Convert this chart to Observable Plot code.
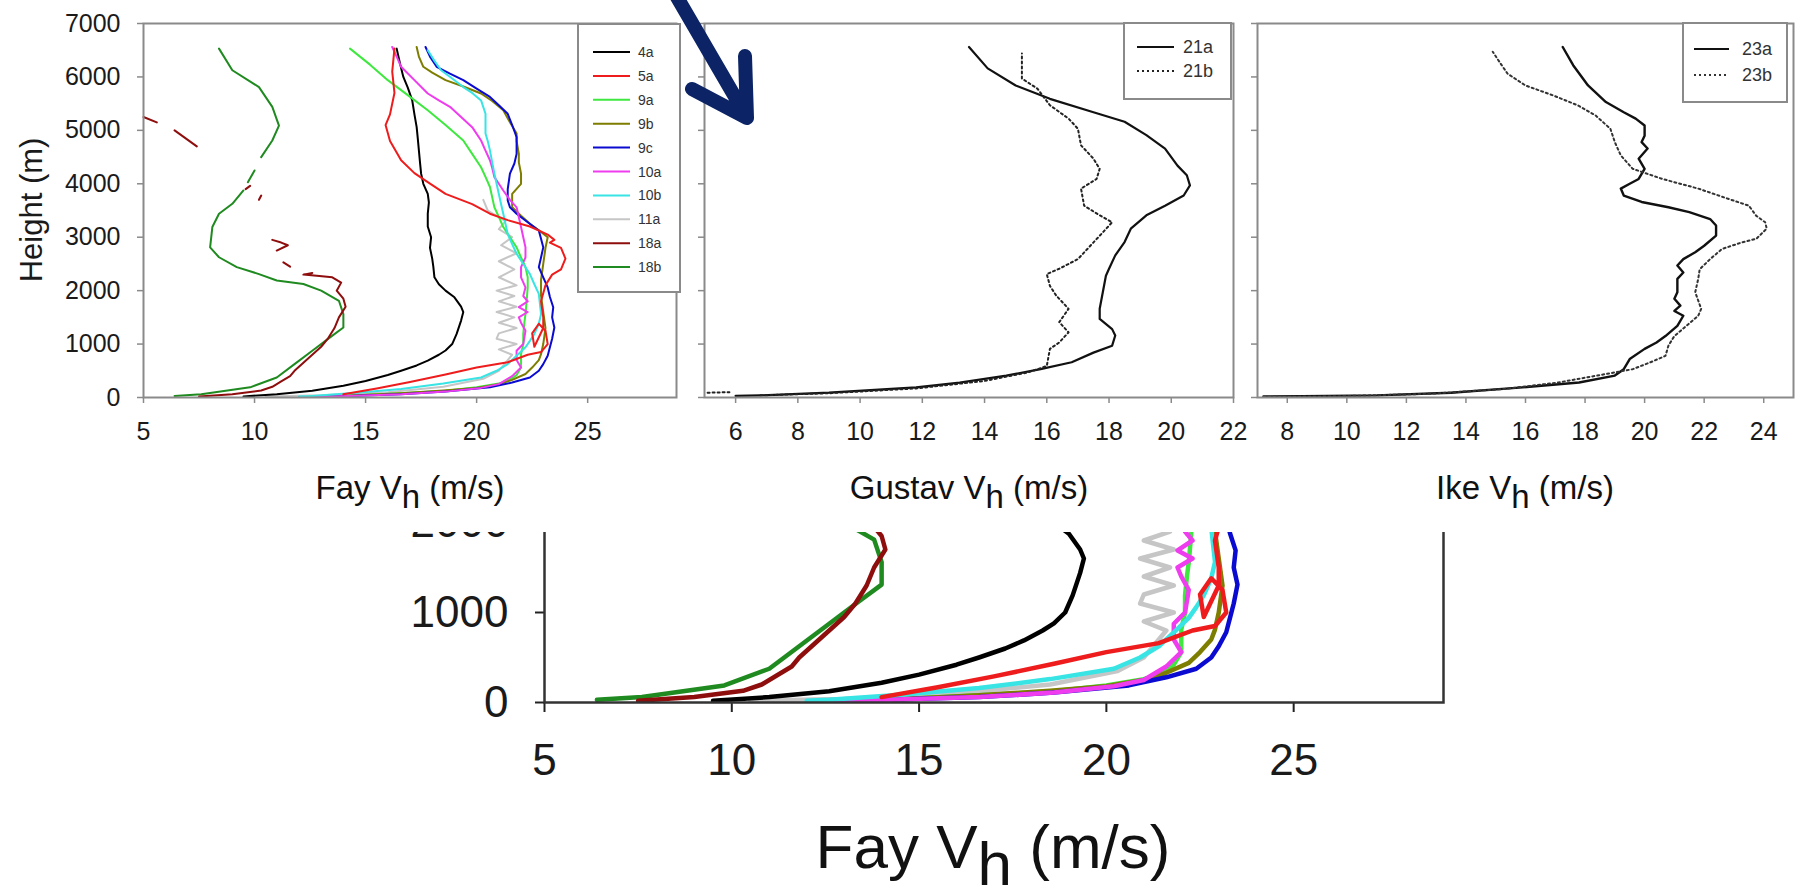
<!DOCTYPE html>
<html><head><meta charset="utf-8">
<script src="https://cdn.jsdelivr.net/npm/d3@7"></script>
<script src="https://cdn.jsdelivr.net/npm/@observablehq/plot@0.6"></script>
<style>
html,body{margin:0;padding:0;background:#fff;}
#root{position:relative;width:1803px;height:891px;overflow:hidden;font-family:"Liberation Sans",Arial,sans-serif;background:#fff;}
.abs{position:absolute;}
</style></head><body><div id="root"></div>
<script>
// ---------- DATA: [speed (m/s), height (m)]; null = gap ----------
const fayNames = ["4a","5a","9a","9b","9c","10a","10b","11a","18a","18b"];
const fayColors = ["#000000","#ee1c1c","#3ee83e","#7d7d00","#0a0ad0","#ee3cee","#38e4e4","#c6c6c6","#8e0d0d","#1f8a1f"];

const s4a = [[9.5,20],[11,60],[12.6,125],[14,220],[15,310],[16,420],[16.6,500],[17.3,600],[17.8,690],[18.3,800],[18.6,880],[18.9,1000],[19.1,1190],[19.3,1440],[19.4,1600],[19.3,1700],[19.0,1875],[18.6,2000],[18.3,2120],[18.1,2250],[18.05,2450],[18.0,2600],[17.9,2800],[17.95,3000],[17.8,3200],[17.8,3440],[17.85,3650],[17.8,3810],[17.6,4000],[17.5,4190],[17.45,4400],[17.4,4625],[17.35,4850],[17.3,5060],[17.2,5300],[17.1,5560],[16.9,5800],[16.7,6000],[16.55,6250],[16.4,6530]];
const s5a = [[14.0,60],[15.5,170],[17,290],[18.6,430],[20.0,560],[21.4,660],[22.3,800],[22.9,850],[23.2,1000],[23.1,1250],[22.8,1380],[22.5,1200],[22.6,950],[23.0,1300],[23.0,1500],[22.9,1800],[23.1,2100],[23.4,2300],[23.8,2400],[24.0,2600],[23.8,2800],[23.3,2900],[23.5,2950],[23.2,3050],[22.4,3200],[21.4,3320],[20.6,3440],[19.8,3620],[18.6,3810],[17.8,4030],[17.2,4200],[16.6,4440],[16.1,4800],[15.9,5100],[16.1,5300],[16.3,5700],[16.2,6100],[16.3,6530]];
const s9a = [[12.5,20],[14.6,40],[17,90],[18.6,125],[20,190],[21.0,260],[21.4,310],[21.8,420],[22.0,560],[22.0,700],[22.0,810],[22.1,1000],[22.1,1190],[22.15,1400],[22.2,1560],[22.25,1800],[22.3,2060],[22.3,2250],[22.2,2440],[22.0,2620],[21.8,2810],[21.5,3000],[21.2,3190],[21.0,3380],[20.8,3560],[20.7,3750],[20.6,3940],[20.4,4130],[20.2,4310],[19.8,4560],[19.4,4810],[18.6,5100],[17.8,5375],[16.9,5660],[16.0,5940],[15.2,6230],[14.3,6530]];
const s9b = [[12.6,10],[14.6,40],[16.6,80],[18.5,130],[20.0,180],[21.0,250],[21.6,330],[22.2,440],[22.5,560],[22.8,700],[22.9,810],[23.0,1000],[23.1,1300],[23.0,1600],[22.9,1900],[22.9,2200],[23.0,2500],[23.1,2800],[23.2,3000],[22.8,3130],[22.4,3250],[22.0,3400],[21.6,3560],[21.6,3810],[22.0,4000],[22.0,4190],[21.9,4400],[21.9,4560],[21.8,4800],[21.8,4940],[21.5,5150],[21.2,5375],[20.7,5550],[20.2,5690],[19.4,5820],[18.6,5940],[18.0,6080],[17.6,6190],[17.4,6380],[17.3,6560]];
const s9c = [[12.6,10],[14.6,35],[16.6,60],[18.6,110],[20.6,190],[21.6,280],[22.4,375],[22.8,500],[23.0,625],[23.2,780],[23.3,940],[23.4,1100],[23.5,1310],[23.4,1500],[23.45,1690],[23.3,1880],[23.2,2060],[23.0,2250],[22.8,2440],[22.9,2620],[23.0,2810],[22.9,2970],[22.8,3125],[22.3,3280],[21.8,3440],[21.5,3560],[21.4,3690],[21.4,3900],[21.5,4190],[21.7,4380],[21.8,4560],[21.8,4875],[21.6,5100],[21.4,5310],[21.0,5470],[20.6,5625],[20.0,5780],[19.4,5940],[18.8,6060],[18.2,6190],[17.9,6380],[17.7,6560]];
const s10a = [[12.6,10],[14.6,35],[16.6,60],[18.6,110],[20.2,180],[21.0,250],[21.6,400],[22.0,560],[21.8,700],[21.8,875],[22.1,1000],[22.2,1250],[22.0,1400],[21.9,1500],[22.3,1600],[21.9,1690],[22.3,1800],[22.1,1900],[22.2,2060],[22.0,2250],[22.0,2440],[22.2,2620],[22.2,2810],[22.1,3000],[22.0,3190],[21.8,3560],[21.5,3700],[21.2,3875],[21.0,4000],[20.8,4125],[20.7,4300],[20.6,4440],[20.4,4620],[20.2,4810],[19.8,5060],[19.3,5250],[18.8,5440],[18.3,5560],[17.8,5690],[17.2,5940],[16.6,6190],[16.4,6380],[16.2,6560]];
const s10b = [[12.0,20],[12.6,30],[14.6,90],[16.6,160],[18.5,260],[20.2,375],[20.9,500],[21.4,625],[21.8,780],[22.2,940],[22.4,1060],[22.6,1190],[22.8,1380],[22.9,1560],[22.85,1750],[22.8,1940],[22.6,2120],[22.4,2310],[22.1,2500],[21.8,2690],[21.6,2870],[21.4,3060],[21.3,3250],[21.2,3440],[21.1,3620],[21.0,3810],[20.9,4000],[20.8,4190],[20.7,4400],[20.6,4625],[20.5,4800],[20.4,4940],[20.4,5150],[20.4,5310],[20.2,5560],[19.8,5700],[19.4,5810],[18.9,5970],[18.4,6125],[18.1,6300],[17.8,6500]];
const s11a = [[10.5,20],[13,40],[16,100],[18.5,200],[20.3,350],[21.0,500],[21.3,650],[21.6,800],[21.0,900],[21.8,1000],[20.9,1100],[21.0,1200],[21.8,1300],[21.0,1400],[21.7,1500],[20.9,1600],[21.8,1700],[21.0,1800],[21.7,1900],[20.9,2000],[21.8,2100],[21.0,2250],[21.7,2400],[21.0,2550],[21.8,2700],[21.1,2850],[21.6,3000],[21.0,3150],[21.3,3300],[20.5,3500],[20.3,3700]];
const s18a = [[7.5,20],[9,60],[10.3,130],[10.8,200],[11.2,300],[11.6,400],[11.8,500],[12.2,650],[12.6,800],[13.0,950],[13.3,1100],[13.6,1300],[13.8,1500],[14.1,1700],[14.0,1850],[13.7,2000],[13.9,2150],[13.5,2250],[12.8,2280],[12.2,2300],[12.6,2330],null,[11.6,2450],[11.3,2530],null,[11.0,2750],[11.5,2850],[11.2,2900],[10.8,2950],null,[10.2,3700],[10.3,3780],null,[9.6,3900],[9.8,3960],null,[6.4,5000],[7.4,4700],null,[5.0,5250],[5.6,5150]];
const s18b = [[6.4,30],[7.6,60],[9.8,190],[11.0,375],[11.8,625],[12.6,875],[13.4,1125],[14.0,1310],[14.0,1560],[13.8,1810],[13.0,2000],[12.2,2125],[11.0,2190],[10.2,2310],[9.2,2440],[8.4,2625],[8.0,2810],[8.1,3190],[8.4,3440],[9.0,3625],[9.5,3875],null,[9.7,4030],[10.0,4250],null,[10.3,4500],[10.8,4810],[11.1,5090],[10.8,5440],[10.2,5810],[9.0,6125],[8.4,6530]];

const gusNames = ["21a","21b"];
const s21a = [[6.0,30],[6.8,40],[9.0,90],[11.8,190],[13.2,280],[14.7,410],[15.8,530],[16.8,660],[17.5,840],[18.1,970],[18.2,1160],[18.1,1280],[17.7,1470],[17.7,1660],[17.8,1970],[17.9,2280],[18.0,2410],[18.2,2660],[18.5,2910],[18.7,3160],[19.2,3410],[19.8,3590],[20.4,3780],[20.6,3970],[20.5,4160],[20.2,4340],[19.8,4660],[19.2,4910],[18.5,5160],[17.5,5340],[16.1,5590],[15.0,5840],[14.1,6160],[13.5,6560]];
const s21b = [[5.1,90],[5.8,100],null,[6.8,40],[9.0,80],[11.8,170],[14.0,310],[15.4,470],[16.0,590],[16.1,910],[16.4,1030],[16.7,1220],[16.4,1410],[16.7,1660],[16.3,1910],[16.1,2090],[16.0,2310],[16.4,2410],[17.0,2590],[17.4,2840],[17.8,3090],[18.1,3280],[17.7,3410],[17.2,3590],[17.1,3910],[17.6,4090],[17.7,4280],[17.5,4470],[17.1,4720],[17.0,5030],[16.7,5220],[16.1,5470],[15.7,5780],[15.2,5970],[15.2,6440]];

const ikeNames = ["23a","23b"];
const s23a = [[7.2,20],[8.5,25],[11.0,40],[13.5,90],[15.9,190],[17.8,280],[19.0,410],[19.3,530],[19.5,720],[20.0,910],[20.4,1030],[20.7,1150],[21.1,1340],[21.3,1530],[21.0,1620],[21.2,1720],[21.0,1850],[21.1,1970],[21.1,2220],[21.3,2340],[21.1,2470],[21.3,2590],[21.7,2720],[22.0,2840],[22.4,3030],[22.4,3220],[22.2,3340],[21.5,3470],[20.8,3560],[19.9,3660],[19.3,3780],[19.2,3910],[19.5,4000],[19.8,4090],[20.0,4280],[19.8,4470],[20.1,4660],[19.9,4780],[20.0,4900],[20.0,5090],[19.7,5220],[19.3,5340],[18.7,5530],[18.1,5840],[17.6,6220],[17.25,6560]];
const s23b = [[7.2,10],[9.8,25],[12.8,70],[15.3,160],[17.1,280],[19.0,470],[19.6,530],[20.2,660],[20.7,780],[20.8,970],[21.0,1150],[21.4,1340],[21.8,1530],[21.9,1660],[21.7,1970],[21.8,2220],[21.85,2400],[22.2,2590],[22.6,2780],[23.25,2900],[23.75,2970],[24.1,3160],[24.05,3280],[23.75,3400],[23.5,3590],[22.8,3720],[21.8,3910],[20.6,4090],[19.6,4280],[19.2,4530],[19.0,4780],[18.85,5030],[18.35,5280],[17.75,5470],[16.9,5660],[16.0,5840],[15.4,6060],[15.2,6220],[14.9,6470]];

const fayTicks = [5,10,15,20,25];
const gusTicks = [6,8,10,12,14,16,18,20,22];
const ikeTicks = [8,10,12,14,16,18,20,22,24];
const heightTicks = [0,1000,2000,3000,4000,5000,6000,7000];
const insetYTicks = [0,1000,2000];

// ---------- helpers ----------
const root = document.getElementById("root");
const toPts = arr => arr.map(p => p ? {x:p[0], y:p[1]} : {x:NaN, y:NaN});
const FONT = "'Liberation Sans', Arial, sans-serif";

function place(node, left, top) {
  node.style.position = "absolute";
  node.style.left = left + "px";
  node.style.top = top + "px";
  root.appendChild(node);
  return node;
}

function panel(o) {
  return Plot.plot({
    width: o.width, height: o.height,
    marginLeft: o.mL, marginRight: o.mR, marginTop: o.mT, marginBottom: o.mB,
    style: {fontSize: o.fs + "px", fontFamily: FONT, color: "#1a1a1a", background: "transparent", overflow: "visible", maxWidth: "none"},
    x: {domain: o.xDomain, label: null},
    y: {domain: o.yDomain, label: null},
    marks: [
      Plot.axisX({ticks: o.xTicks, tickSize: o.tsX, tickPadding: o.tpX, stroke: o.tickColor, strokeWidth: o.tickW, tickFormat: d => String(d), label: null}),
      Plot.axisY({ticks: o.yTicks, tickSize: o.tsY, tickPadding: o.tpY, stroke: o.tickColor, strokeWidth: o.tickW, tickFormat: o.yLabels ? (d => String(d)) : (() => ""), label: null}),
      ...o.series.map(s => Plot.line(toPts(s.data), {x: "x", y: "y", stroke: s.color, strokeWidth: s.w, strokeDasharray: s.dash || null, strokeLinejoin: "round", clip: !!o.clip})),
      Plot.frame({stroke: o.frameColor, strokeWidth: o.frameW, anchor: o.frameAnchor})
    ].filter(Boolean)
  });
}

const fayData = [s4a,s5a,s9a,s9b,s9c,s10a,s10b,s11a,s18a,s18b];
// draw gray & colored in order so darker ones on top roughly like reference
const order = [7,0,2,3,4,5,6,1,9,8];
const faySeries = w => order.map(i => ({data: fayData[i], color: fayColors[i], w}));

// Panel 1 (Fay)
place(panel({
  width: 690, height: 460, mL: 143, mR: 14, mT: 23, mB: 63, fs: 25,
  xDomain: [5,29], yDomain: [0,7000], xTicks: fayTicks, yTicks: heightTicks, yLabels: true,
  tsX: 6, tpX: 19, tsY: 6, tpY: 17, tickColor: "#8a8a8a", tickW: 1.5,
  series: faySeries(2), frameColor: "#8a8a8a", frameW: 2
}), 0, 0);

// Panel 2 (Gustav)
place(panel({
  width: 600, height: 460, mL: 54, mR: 17, mT: 23, mB: 63, fs: 25,
  xDomain: [5,22], yDomain: [0,7000], xTicks: gusTicks, yTicks: heightTicks, yLabels: false,
  tsX: 6, tpX: 19, tsY: 6, tpY: 17, tickColor: "#8a8a8a", tickW: 1.5,
  series: [{data: s21a, color: "#111", w: 2.2}, {data: s21b, color: "#222", w: 2, dash: "2,3"}],
  frameColor: "#8a8a8a", frameW: 2
}), 650, 0);

// Panel 3 (Ike)
place(panel({
  width: 558, height: 460, mL: 12, mR: 10, mT: 23, mB: 63, fs: 25,
  xDomain: [7,25], yDomain: [0,7000], xTicks: ikeTicks, yTicks: heightTicks, yLabels: false,
  tsX: 6, tpX: 19, tsY: 6, tpY: 17, tickColor: "#8a8a8a", tickW: 1.5,
  series: [{data: s23a, color: "#111", w: 2.4}, {data: s23b, color: "#333", w: 2, dash: "2,3"}],
  frameColor: "#8a8a8a", frameW: 2
}), 1245, 0);

// Inset (zoom of Fay, bottom 2000 m), clipped at top
const insetWrap = document.createElement("div");
insetWrap.style.width = "1100px"; insetWrap.style.height = "330px"; insetWrap.style.overflow = "hidden";
place(insetWrap, 380, 532);
const inset = panel({
  width: 1100, height: 330, mL: 164, mR: 37, mT: 42, mB: 108, fs: 44,
  xDomain: [5,29], yDomain: [0,2000], xTicks: fayTicks, yTicks: insetYTicks, yLabels: true,
  tsX: 10, tpX: 31, tsY: 9, tpY: 27, tickColor: "#222", tickW: 2,
  series: faySeries(4.5), frameColor: "#333", frameW: 2.5, clip: true
});
inset.style.position = "absolute"; inset.style.left = "0px"; inset.style.top = "-52px";
insetWrap.appendChild(inset);

// ---------- overlay: titles, legends, arrow ----------
const ov = d3.create("svg").attr("width", 1803).attr("height", 891)
  .style("position","absolute").style("left","0px").style("top","0px").style("font-family", FONT);

ov.append("text").attr("transform","translate(31,210) rotate(-90)")
  .attr("text-anchor","middle").attr("dominant-baseline","central")
  .attr("font-size", 31).attr("fill","#1a1a1a").text("Height (m)");

function vhTitle(x, y, prefix, fs) {
  const t = ov.append("text").attr("x", x).attr("y", y).attr("text-anchor","middle")
    .attr("font-size", fs).attr("fill","#111");
  t.append("tspan").text(prefix + " V");
  t.append("tspan").attr("dy", "0.28em").text("h");
  t.append("tspan").attr("dy", "-0.28em").text(" (m/s)");
}
vhTitle(410, 499, "Fay", 33);
vhTitle(969, 499, "Gustav", 33);
vhTitle(1525, 499, "Ike", 33);
vhTitle(993, 868, "Fay", 62);

function legend(x, y, w, h, items, y0, dy, lx0, lx1, tx, fs) {
  const g = ov.append("g");
  g.append("rect").attr("x", x).attr("y", y).attr("width", w).attr("height", h)
    .attr("fill","#fff").attr("stroke","#8a8a8a").attr("stroke-width", 2);
  items.forEach((it, i) => {
    const yy = y0 + i * dy;
    g.append("line").attr("x1", lx0).attr("x2", lx1).attr("y1", yy).attr("y2", yy)
      .attr("stroke", it.color).attr("stroke-width", 2).attr("stroke-dasharray", it.dash || null);
    g.append("text").attr("x", tx).attr("y", yy).attr("dominant-baseline","central")
      .attr("font-size", fs).attr("fill","#333").text(it.name);
  });
}
legend(578, 24, 102, 268, fayNames.map((n,i) => ({name: n, color: fayColors[i]})), 52, 23.9, 593, 630, 638, 14);
legend(1124, 23, 107, 76, [{name: gusNames[0], color:"#111"}, {name: gusNames[1], color:"#222", dash:"2,3"}], 47, 24, 1137, 1174, 1183, 18);
legend(1683, 23, 104, 79, [{name: ikeNames[0], color:"#111"}, {name: ikeNames[1], color:"#333", dash:"2,3"}], 49, 26, 1694, 1729, 1742, 18);

// arrow annotation
ov.append("path")
  .attr("d", "M674,-8 L745,114 M692,89 L747,118 L745,56")
  .attr("fill","none").attr("stroke","#0c2466").attr("stroke-width", 14)
  .attr("stroke-linecap","round").attr("stroke-linejoin","round");

root.appendChild(ov.node());
</script></body></html>
